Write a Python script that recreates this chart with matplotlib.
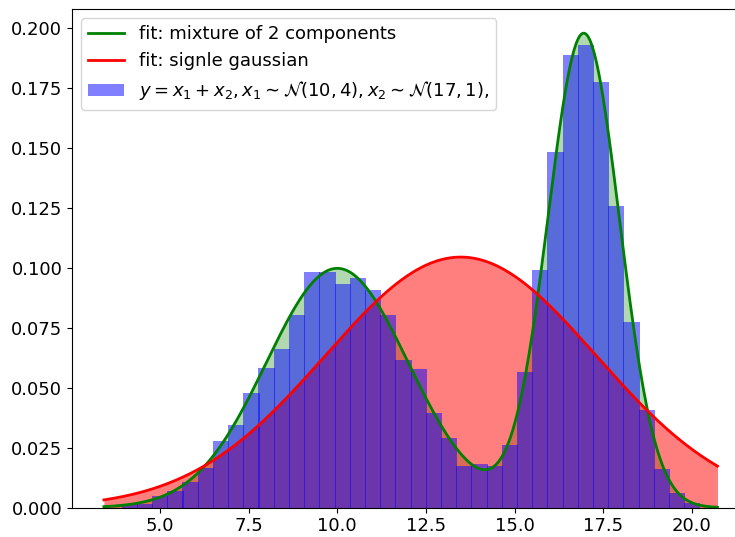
import numpy as np
import matplotlib
matplotlib.use("Agg")
import matplotlib.pyplot as plt

# ---- data ----
bin_start = 3.92
bin_width = 0.4287
hist_density = [0.0016, 0.0016, 0.0049, 0.0070, 0.0108, 0.0164, 0.0278, 0.0345,
                0.0480, 0.0582, 0.0661, 0.0803, 0.0982, 0.0982, 0.0933, 0.0957,
                0.0907, 0.0803, 0.0616, 0.0578, 0.0395, 0.0290, 0.0175, 0.0182,
                0.0175, 0.0261, 0.0565, 0.0990, 0.1482, 0.1886, 0.1928, 0.1774,
                0.1257, 0.0772, 0.0407, 0.0161, 0.0060, 0.0018]

# fitted mixture of 2 gaussians
mix_weights = [0.5, 0.5]
mix_means = [10.0, 16.95]
mix_sds = [2.0, 1.01]
# fitted single gaussian
single_mean = 13.48
single_sd = 3.82

x_range = [3.42, 20.72]

labels = ["fit: mixture of 2 components", "fit: signle gaussian",
          r"$y=x_1+x_2, x_1\sim\mathcal{N}(10,4), x_2\sim\mathcal{N}(17,1),$"]


def npdf(x, m, s):
    return np.exp(-0.5 * ((x - m) / s) ** 2) / (s * np.sqrt(2 * np.pi))


n = len(hist_density)
left_edges = bin_start + bin_width * np.arange(n)

xs = np.linspace(x_range[0], x_range[1], 600)
mix = sum(w * npdf(xs, m, s) for w, m, s in zip(mix_weights, mix_means, mix_sds))
single = npdf(xs, single_mean, single_sd)

plt.rcParams['font.family'] = ['DejaVu Sans']
plt.rcParams['font.size'] = 13

fig = plt.figure(figsize=(7.35, 5.37), dpi=100)
ax = fig.add_axes([72 / 735, 29.3 / 537, (748 - 72) / 735, (507.7 - 9) / 537])

ax.fill_between(xs, 0, mix, color='green', alpha=0.3, lw=0)
ax.fill_between(xs, 0, single, color='red', alpha=0.5, lw=0)
bars = ax.bar(left_edges, hist_density, width=bin_width + 0.03, align='edge',
              color='blue', alpha=0.5, linewidth=0, label=labels[2])
l1, = ax.plot(xs, mix, color='green', lw=2, label=labels[0])
l2, = ax.plot(xs, single, color='red', lw=2, label=labels[1])

ax.set_xlim(2.52, 21.58)
ax.set_ylim(0, 0.2078)
ax.set_xticks([5.0, 7.5, 10.0, 12.5, 15.0, 17.5, 20.0])
ax.set_yticks([0.0, 0.025, 0.05, 0.075, 0.1, 0.125, 0.15, 0.175, 0.2])
ax.set_xticklabels(["5.0", "7.5", "10.0", "12.5", "15.0", "17.5", "20.0"])
ax.set_yticklabels(["0.000", "0.025", "0.050", "0.075", "0.100", "0.125",
                    "0.150", "0.175", "0.200"])

ax.legend(handles=[l1, l2, bars], labels=labels, loc='upper left')

fig.savefig("out.png", dpi=100)
